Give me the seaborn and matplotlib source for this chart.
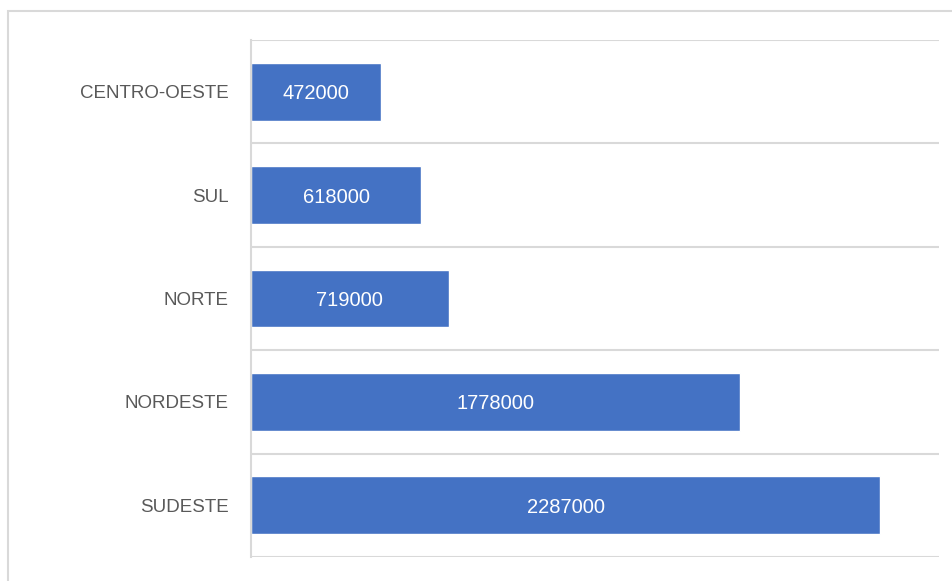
import matplotlib
matplotlib.use("Agg")
import matplotlib.pyplot as plt
import seaborn as sns
import pandas as pd
from matplotlib.patches import Rectangle

# dados
regioes = ['CENTRO-OESTE', 'SUL', 'NORTE', 'NORDESTE', 'SUDESTE']
valores = [472000, 618000, 719000, 1778000, 2287000]

df = pd.DataFrame({'Regiao': regioes, 'Valor': valores})

sns.set_theme(style='white')
plt.rcParams['font.family'] = ['Liberation Sans', 'DejaVu Sans']

fig = plt.figure(figsize=(9.52, 5.81), dpi=100)
ax = fig.add_axes([251/952, 1 - 557/581, (939 - 251)/952, (557 - 40)/581])

sns.barplot(data=df, x='Valor', y='Regiao', order=regioes, orient='h',
            color='#4472C4', saturation=1, width=0.56, ax=ax)

labels = ax.bar_label(ax.containers[0], fmt='%d', label_type='center',
                      color='white', fontsize=14.5)
for t in labels:
    t.set_va('center_baseline')

ax.set_xlim(0, 2500000)
ax.set_ylim(len(regioes) - 0.5, -0.5)

# linhas de grade entre categorias
for y in [i - 0.5 for i in range(len(regioes) + 1)]:
    ax.axhline(y, color='#d9d9d9', lw=1.5, zorder=0)

ax.set_xlabel('')
ax.set_ylabel('')
ax.set_xticks([])
ax.tick_params(axis='y', length=0, pad=16, labelsize=13.5, labelcolor='#595959')

for s in ['top', 'right', 'bottom']:
    ax.spines[s].set_visible(False)
ax.spines['left'].set_color('#d9d9d9')
ax.spines['left'].set_linewidth(1.5)

# moldura do gráfico
fig.patches.append(Rectangle((7.5/952, -0.1), 1.2, 1.1 - 11/581, transform=fig.transFigure,
                             fill=False, edgecolor='#d9d9d9', lw=1.5))

fig.savefig('out.png', dpi=100)
